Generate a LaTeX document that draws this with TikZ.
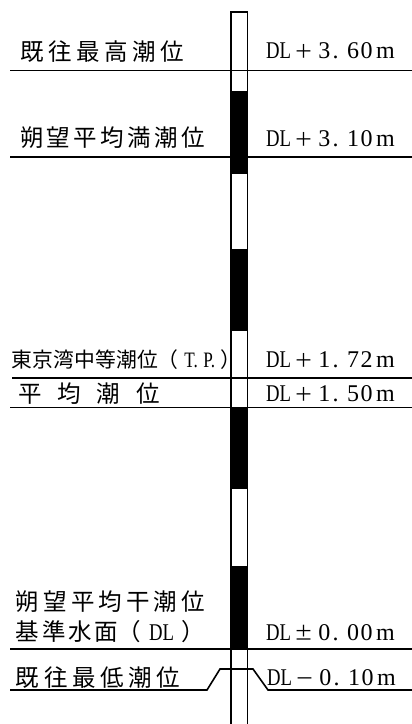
\documentclass[tikz,border=0pt]{standalone}
\usepackage{fontspec}
\newfontfamily\jfont{Noto Sans CJK JP}
\newfontfamily\lfont{Liberation Serif}
\newfontfamily\nfont[FakeStretch=0.78]{Liberation Serif}
\newcommand\dlv[4]{{\nfont DL}\hspace{4pt}{\jfont\fontsize{19}{20}\selectfont #1}\hspace{4.5pt}#2\hspace{2.2pt}.\hspace{8.5pt}#3\hspace{1.6pt}#4\hspace{3.5pt}m}
\begin{document}
\begin{tikzpicture}[x=1pt,y=-1pt,line width=1.6pt,
  lab/.style={anchor=west,inner sep=0pt,outer sep=0pt,font=\jfont\fontsize{23.5}{24}\selectfont},
  val/.style={anchor=west,inner sep=0pt,outer sep=0pt,font=\lfont\fontsize{24}{25}\selectfont}]
\useasboundingbox (0,0) rectangle (412,724);
% staff
\foreach \a/\b in {91/174,249/331,408/489,566/649}
  \fill (231,\a) rectangle (247.5,\b);
\draw (231,724) -- (231,12) -- (247.5,12) -- (247.5,724);
% level lines
\draw (10,70.5) -- (412,70.5);
\draw (10,157) -- (412,157);
\draw (12,378) -- (412,378);
\draw (10,407.5) -- (412,407.5);
\draw (10,649) -- (412,649);
\draw (10,690) -- (207,690) -- (220,669) -- (253,669) -- (268,690) -- (412,690);
% labels
\node[lab] (l1) at (20,52) {\makebox[164pt][s]{既\hfil 往\hfil 最\hfil 高\hfil 潮\hfil 位}};
\node[val] (v1) at (266,51) {\dlv{＋}{3}{6}{0}};
\node[lab] (l2) at (20,138) {\makebox[185pt][s]{朔\hfil 望\hfil 平\hfil 均\hfil 満\hfil 潮\hfil 位}};
\node[val] (v2) at (266,139) {\dlv{＋}{3}{1}{0}};
\node[lab,font=\jfont\fontsize{20.8}{21}\selectfont] (l3) at (12,360)
  {\makebox[146pt][s]{東\hfil 京\hfil 湾\hfil 中\hfil 等\hfil 潮\hfil 位}（\makebox[42pt][s]{\hfil{\nfont\fontsize{22}{23}\selectfont T.\hfil P.}\hfil}）};
\node[val] (v3) at (266,360) {\dlv{＋}{1}{7}{2}};
\node[lab] (l4) at (18,394) {\makebox[142pt][s]{平\hfil 均\hfil 潮\hfil 位}};
\node[val] (v4) at (266,394) {\dlv{＋}{1}{5}{0}};
\node[lab] (l5) at (16,602) {\makebox[189pt][s]{朔\hfil 望\hfil 平\hfil 均\hfil 干\hfil 潮\hfil 位}};
\node[lab] (l6) at (16,632)
  {\makebox[102pt][s]{基\hfil 準\hfil 水\hfil 面}（\makebox[40pt][s]{\hfil{\nfont\fontsize{24}{25}\selectfont DL}\hfil}）};
\node[val] (v6) at (266,633) {\dlv{±}{0}{0}{0}};
\node[lab] (l7) at (16,678) {\makebox[164pt][s]{既\hfil 往\hfil 最\hfil 低\hfil 潮\hfil 位}};
\node[val] (v7) at (267,678) {\dlv{－}{0}{1}{0}};
\end{tikzpicture}
\end{document}
